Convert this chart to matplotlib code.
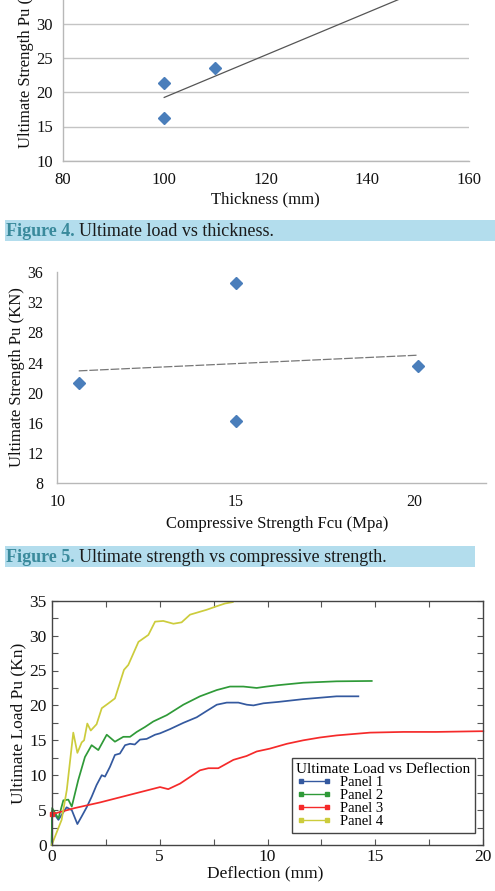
import matplotlib
matplotlib.use('Agg')
import matplotlib.pyplot as plt
import numpy as np
from matplotlib.lines import Line2D
from matplotlib.patches import Rectangle
from matplotlib.ticker import MultipleLocator

plt.rcParams['font.family'] = ['Liberation Serif', 'DejaVu Serif']

# ---------------- data ----------------
# Figure 4: ultimate load vs thickness
thickness = [100, 100, 110, 150]
pu_thick = [21.3, 16.2, 23.6, 34.5]
thick_yticks = [10, 15, 20, 25, 30, 35, 40]
thick_xticks = [80, 100, 120, 140, 160]

# Figure 5: ultimate strength vs compressive strength
fcu = [10.6, 15.0, 15.0, 20.1]
pu_fcu = [21.3, 34.5, 16.2, 23.6]
fcu_yticks = [8, 12, 16, 20, 24, 28, 32, 36]
fcu_xticks = [10, 15, 20]

# Ultimate load vs deflection
defl_p1 = [0, 0.02, 0.31, 0.5, 0.69, 0.93, 1.19, 1.39, 1.62, 1.85, 2.08, 2.32, 2.47, 2.70,
           2.93, 3.16, 3.40, 3.63, 3.85, 4.09, 4.4, 4.79, 5.02, 5.48, 6.10, 6.72, 7.18,
           7.65, 8.11, 8.65, 9.04, 9.35, 9.81, 10.5, 11.66, 13.2, 14.21]
load_p1 = [0, 4.9, 3.6, 4.5, 5.4, 5.0, 3.0, 4.1, 5.4, 6.9, 8.6, 10.0, 9.8, 11.2,
           12.9, 13.1, 14.3, 14.5, 14.4, 15.1, 15.2, 15.8, 16.0, 16.6, 17.5, 18.3, 19.2,
           20.1, 20.4, 20.4, 20.1, 20.0, 20.3, 20.5, 20.9, 21.3, 21.3]

defl_p2 = [0, 0.02, 0.31, 0.54, 0.77, 0.93, 1.23, 1.54, 1.85, 2.16, 2.55, 2.93, 3.32, 3.63,
           3.94, 4.32, 4.71, 5.33, 6.10, 6.87, 7.65, 8.26, 8.88, 9.5, 9.96, 10.5, 11.66,
           13.2, 14.83]
load_p2 = [0, 5.3, 3.8, 6.4, 6.5, 5.5, 9.3, 12.6, 14.3, 13.6, 15.8, 14.8, 15.5, 15.5,
           16.2, 16.9, 17.7, 18.6, 20.1, 21.3, 22.2, 22.7, 22.7, 22.5, 22.7, 22.9, 23.25,
           23.45, 23.5]

defl_p3 = [0, 1.08, 2.24, 5.02, 5.4, 5.95, 6.87, 7.26, 7.72, 8.42, 9.03, 9.5, 10.1, 10.9,
           11.66, 12.43, 13.2, 14.75, 16.3, 17.8, 19.85, 20.0]
load_p3 = [4.4, 5.3, 6.1, 8.3, 8.0, 8.8, 10.7, 11.0, 11.0, 12.2, 12.75, 13.4, 13.8, 14.5,
           15.0, 15.4, 15.7, 16.1, 16.2, 16.2, 16.3, 16.3]

defl_p4 = [0, 0.46, 0.70, 1.0, 1.19, 1.39, 1.5, 1.65, 1.81, 2.08, 2.32, 2.63, 2.93, 3.35,
           3.55, 4.02, 4.48, 4.79, 5.17, 5.64, 6.02, 6.41, 7.18, 7.64, 8.03, 8.39]
load_p4 = [0, 3.6, 7.9, 16.1, 13.2, 14.7, 15.0, 17.4, 16.4, 17.3, 19.6, 20.3, 21.0, 25.1,
           25.8, 29.1, 30.1, 32.0, 32.1, 31.7, 31.9, 33.0, 33.7, 34.2, 34.6, 34.8]

panel_labels = ['Panel 1', 'Panel 2', 'Panel 3', 'Panel 4']
panel_colors = ['#34599f', '#2f9a38', '#f52a2a', '#cccc3c']

# ---------------- layout helpers ----------------
W, H = 495, 891
fig = plt.figure(figsize=(W / 100, H / 100), dpi=100)


def box(l, t, r, b):
    return [l / W, 1 - b / H, (r - l) / W, (b - t) / H]


def fx(x):
    return x / W


def fy(y):
    return 1 - y / H


MARKER_BLUE = '#4a7ebb'
GRID = '#c4c4c4'
AX_GRAY = '#b8b8b8'

# ---------------- Figure 4 ----------------
ax1 = fig.add_axes(box(62.7, -44.5, 468.7, 160.7))
ax1.set_xlim(80, 160)
ax1.set_ylim(10, 40)
ax1.set_xticks(thick_xticks)
ax1.set_yticks(thick_yticks)
ax1.grid(axis='y', color=GRID, lw=1.0)
ax1.set_axisbelow(True)
for s in ['top', 'right']:
    ax1.spines[s].set_visible(False)
for s in ['left', 'bottom']:
    ax1.spines[s].set_color(AX_GRAY)
    ax1.spines[s].set_linewidth(1.0)
ax1.tick_params(axis='both', length=0, labelsize=12, labelcolor='#111111')
ax1.tick_params(axis='y', pad=7)
ax1.tick_params(axis='x', pad=8)
ax1.plot(thickness, pu_thick, linestyle='none', marker='D', ms=6.5, color=MARKER_BLUE,
         clip_on=False, zorder=3)
c1 = np.polyfit(thickness, pu_thick, 1)
tx = np.array([min(thickness), max(thickness)])
ax1.plot(tx, np.polyval(c1, tx), color='#555555', lw=0.9, zorder=2)
ax1.set_xlabel('Thickness (mm)', fontsize=12, va='center', color='#111111')
ax1.xaxis.set_label_coords(fx(265), fy(199), transform=fig.transFigure)
ax1.set_ylabel('Ultimate Strength Pu (KN)', fontsize=12, va='center', color='#111111')
ax1.yaxis.set_label_coords(fx(26), fy(58), transform=fig.transFigure)

# ---------------- Figure 5 ----------------
ax2 = fig.add_axes(box(57.3, 272, 486, 483.3))
ax2.set_xlim(10, 22)
ax2.set_ylim(8, 36)
ax2.set_xticks(fcu_xticks)
ax2.set_yticks(fcu_yticks)
for s in ['top', 'right']:
    ax2.spines[s].set_visible(False)
for s in ['left', 'bottom']:
    ax2.spines[s].set_color(AX_GRAY)
    ax2.spines[s].set_linewidth(1.0)
ax2.tick_params(axis='both', length=0, labelsize=11.5, labelcolor='#111111')
ax2.tick_params(axis='y', pad=10)
ax2.tick_params(axis='x', pad=8)
ax2.plot(fcu, pu_fcu, linestyle='none', marker='D', ms=6.5, color=MARKER_BLUE, zorder=3)
c2 = np.polyfit(fcu, pu_fcu, 1)
fx2 = np.array([min(fcu), max(fcu)])
ax2.plot(fx2, np.polyval(c2, fx2), color='#777777', lw=0.9, linestyle=(0, (7, 1.5)), zorder=2)
ax2.set_xlabel('Compressive Strength Fcu (Mpa)', fontsize=12, va='center', color='#111111')
ax2.xaxis.set_label_coords(fx(277), fy(524.3), transform=fig.transFigure)
ax2.set_ylabel('Ultimate Strength Pu (KN)', fontsize=12, va='center', color='#111111')
ax2.yaxis.set_label_coords(fx(17), fy(377), transform=fig.transFigure)

# ---------------- Deflection chart ----------------
ax3 = fig.add_axes(box(51.7, 600.7, 483.3, 845))
ax3.set_xlim(0, 20)
ax3.set_ylim(0, 35)
ax3.xaxis.set_major_locator(MultipleLocator(5))
ax3.xaxis.set_minor_locator(MultipleLocator(2.5))
ax3.yaxis.set_major_locator(MultipleLocator(5))
ax3.yaxis.set_minor_locator(MultipleLocator(2.5))
for s in ax3.spines.values():
    s.set_color('#444444')
    s.set_linewidth(1.0)
ax3.tick_params(which='both', direction='in', top=True, right=True, length=4.5,
                width=0.8, color='#555555')
ax3.tick_params(axis='both', labelsize=12.5, labelcolor='#111111')
ax3.tick_params(axis='y', pad=3.5)
ax3.tick_params(axis='x', pad=3)

series = [(defl_p1, load_p1), (defl_p2, load_p2), (defl_p3, load_p3), (defl_p4, load_p4)]
for (d, l), c, lab in zip(series, panel_colors, panel_labels):
    ax3.plot(d, l, color=c, lw=1.25, label=lab, clip_on=False)
ax3.plot([defl_p3[0]], [load_p3[0]], marker='s', ms=3.5, color=panel_colors[2], clip_on=False)

ax3.set_xlabel('Deflection (mm)', fontsize=12.5, va='center', color='#111111')
ax3.xaxis.set_label_coords(fx(265), fy(873), transform=fig.transFigure)
ax3.set_ylabel('Ultimate Load Pu (Kn)', fontsize=12.5, va='center', color='#111111')
ax3.yaxis.set_label_coords(fx(18), fy(723), transform=fig.transFigure)

handles = [Line2D([], [], color=c, lw=1.0, marker='s', ms=2.5) for c in panel_colors]
leg = ax3.legend(handles, panel_labels, title='Ultimate Load vs Deflection',
                 loc='lower right', bbox_to_anchor=(0.981, 0.05), borderaxespad=0,
                 fancybox=False, edgecolor='#444444', framealpha=1, fontsize=10.5,
                 title_fontsize=11, handlelength=2.4, labelspacing=0.0,
                 handletextpad=0.6, borderpad=0.3, numpoints=2, alignment='left')
leg.get_frame().set_linewidth(1.0)

# ---------------- captions ----------------
BAND = '#b3dded'
TEAL = '#3a8a9c'
fig.add_artist(Rectangle((fx(5), fy(241)), (495 - 5) / W, 21 / H, transform=fig.transFigure,
                         facecolor=BAND, edgecolor='none', zorder=0))
fig.add_artist(Rectangle((fx(5), fy(567)), (475 - 5) / W, 21 / H, transform=fig.transFigure,
                         facecolor=BAND, edgecolor='none', zorder=0))

renderer = fig.canvas.get_renderer()


def caption(y, bold, rest):
    t = fig.text(fx(6), fy(y), bold, fontsize=13, weight='bold', color=TEAL, va='center')
    bb = t.get_window_extent(renderer)
    fig.text(bb.x1 / W + 4 / W, fy(y), rest, fontsize=13, color='#1a1a1a', va='center')


caption(231, 'Figure 4.', 'Ultimate load vs thickness.')
caption(557, 'Figure 5.', 'Ultimate strength vs compressive strength.')

fig.savefig('out.png', dpi=100)
